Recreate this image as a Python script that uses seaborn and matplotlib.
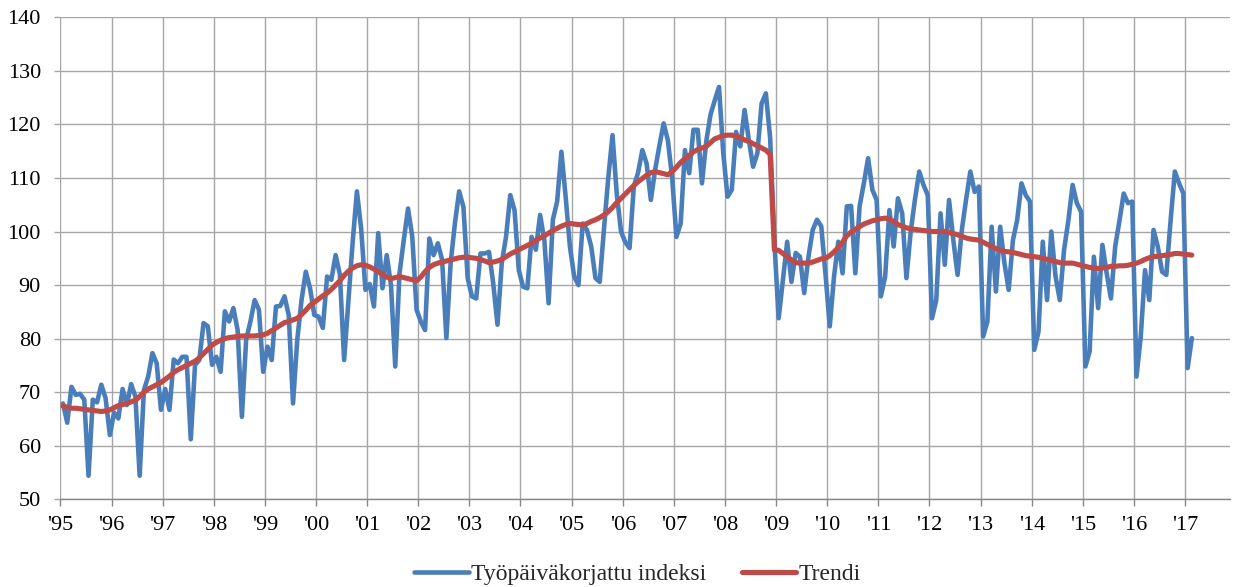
import numpy as np
import pandas as pd
import matplotlib
matplotlib.use("Agg")
import matplotlib.pyplot as plt
import seaborn as sns

# vuodet ja akselit
start_year = 1995
years = list(range(1995, 2018))
year_labels = ["'" + str(y)[2:] for y in years]
y_ticks = list(range(50, 141, 10))

# Työpäiväkorjattu indeksi, kuukausittain 1/1995 - 2/2017
indeksi = [
    67.9, 64.3, 71.0, 69.5, 69.7, 68.6, 54.4, 68.6, 68.1, 71.4, 68.9, 62.0,   # 1995
    66.2, 65.1, 70.6, 67.6, 71.5, 69.2, 54.4, 70.4, 72.9, 77.3, 75.4, 66.7,   # 1996
    70.6, 66.7, 76.1, 75.4, 76.6, 76.6, 61.2, 75.1, 76.0, 82.9, 82.3, 75.1,   # 1997
    76.6, 73.8, 85.1, 83.2, 85.7, 81.6, 65.4, 79.8, 83.2, 87.2, 85.4, 73.8,   # 1998
    78.5, 76.0, 86.0, 86.1, 87.9, 84.4, 67.9, 79.8, 87.2, 92.5, 89.4, 84.4,   # 1999
    84.1, 82.0, 91.6, 91.0, 95.6, 92.0, 76.0, 87.0, 98.0, 107.5, 100.5, 89.1,  # 2000
    90.2, 86.0, 99.7, 89.4, 95.6, 90.0, 74.8, 92.2, 98.4, 104.3, 99.0, 85.4,  # 2001
    83.2, 81.6, 98.7, 95.6, 97.8, 94.7, 80.1, 94.1, 101.5, 107.5, 104.6, 91.3,  # 2002
    87.9, 87.5, 95.9, 95.9, 96.2, 90.3, 82.6, 94.1, 99.0, 106.8, 104.0, 92.8,  # 2003
    89.7, 89.4, 99.0, 96.6, 103.1, 98.4, 86.6, 102.2, 105.6, 114.9, 106.5, 97.2,  # 2004
    91.6, 90.0, 101.5, 100.3, 97.2, 91.3, 90.6, 100.5, 110.0, 118.0, 107.0, 100.0,  # 2005
    98.0, 96.9, 108.4, 111.0, 115.2, 112.7, 105.9, 111.5, 116.0, 120.2, 117.0, 110.0,  # 2006
    99.0, 101.5, 115.2, 110.9, 119.0, 119.0, 109.0, 116.8, 121.8, 124.5, 127.0, 114.6,  # 2007
    106.5, 107.8, 118.6, 115.9, 122.7, 117.1, 112.1, 114.6, 123.9, 125.8, 117.5, 98.0,  # 2008
    83.8, 91.0, 98.1, 90.6, 96.0, 95.3, 88.5, 95.3, 100.3, 102.2, 101.0, 92.0,  # 2009
    82.3, 91.6, 98.1, 92.2, 104.7, 104.8, 92.2, 104.7, 109.0, 113.7, 107.8, 105.9,  # 2010
    87.9, 91.6, 104.0, 97.2, 106.2, 103.4, 91.3, 100.0, 106.0, 111.2, 108.7, 106.8,  # 2011
    83.8, 87.2, 103.4, 93.8, 105.9, 98.4, 91.9, 100.3, 106.0, 111.2, 107.4, 108.4,  # 2012
    80.4, 83.2, 100.9, 88.8, 100.9, 94.1, 89.1, 98.4, 102.2, 109.0, 106.8, 105.6,  # 2013
    77.9, 81.3, 98.1, 87.2, 100.0, 91.6, 87.2, 96.6, 102.0, 108.7, 105.3, 103.7,  # 2014
    74.8, 77.6, 95.3, 85.7, 97.5, 92.2, 87.5, 97.2, 102.0, 107.1, 105.3, 105.6,  # 2015
    72.9, 80.4, 92.8, 87.2, 100.3, 97.2, 92.5, 91.9, 102.0, 111.2, 109.0, 107.1,  # 2016
    74.5, 80.1,  # 2017
]

# Trendi
trendi = [
    67.4, 67.2, 67.0, 67.0, 66.9, 66.8, 66.7, 66.6, 66.5, 66.4, 66.5, 66.7,   # 1995
    67.1, 67.5, 67.7, 67.9, 68.2, 68.5, 69.2, 70.0, 70.6, 71.0, 71.4, 71.8,   # 1996
    72.4, 73.0, 73.7, 74.2, 74.6, 75.0, 75.4, 75.8, 76.4, 77.2, 78.0, 78.8,   # 1997
    79.3, 79.7, 80.0, 80.2, 80.3, 80.4, 80.5, 80.5, 80.5, 80.5, 80.6, 80.7,   # 1998
    81.0, 81.5, 82.0, 82.5, 83.0, 83.2, 83.5, 83.8, 84.5, 85.3, 86.2, 86.8,   # 1999
    87.4, 88.0, 88.5, 89.2, 90.0, 90.8, 91.8, 92.6, 93.2, 93.6, 93.8, 93.7,   # 2000
    93.4, 93.0, 92.5, 92.0, 91.5, 91.2, 91.4, 91.6, 91.4, 91.2, 91.0, 90.8,   # 2001
    91.5, 92.5, 93.3, 93.8, 94.1, 94.3, 94.5, 94.7, 94.9, 95.1, 95.2, 95.2,   # 2002
    95.1, 95.0, 94.8, 94.5, 94.2, 94.3, 94.5, 94.8, 95.3, 95.8, 96.2, 96.6,   # 2003
    97.0, 97.4, 97.8, 98.3, 98.8, 99.2, 99.7, 100.2, 100.6, 101.0, 101.3, 101.5,  # 2004
    101.4, 101.3, 101.2, 101.5, 101.9, 102.2, 102.6, 103.1, 103.7, 104.5, 105.4, 106.2,  # 2005
    107.0, 107.8, 108.6, 109.3, 109.9, 110.5, 111.0, 111.2, 111.0, 110.8, 110.6, 111.2,  # 2006
    112.0, 112.9, 113.6, 114.2, 114.9, 115.3, 115.6, 115.9, 116.6, 117.3, 117.6, 117.9,  # 2007
    118.0, 118.0, 117.8, 117.5, 117.1, 116.8, 116.4, 116.0, 115.6, 115.2, 114.4, 96.6,  # 2008
    96.5, 95.9, 95.3, 94.7, 94.2, 94.1, 94.1, 94.1, 94.3, 94.6, 94.9, 95.0,   # 2009
    95.5, 96.2, 97.0, 98.0, 99.2, 99.9, 100.4, 100.9, 101.4, 101.7, 102.0, 102.2,  # 2010
    102.4, 102.5, 102.3, 101.9, 101.3, 101.0, 100.7, 100.5, 100.4, 100.3, 100.2, 100.1,  # 2011
    100.0, 100.0, 100.0, 100.0, 99.8, 99.6, 99.4, 99.1, 98.8, 98.6, 98.5, 98.4,  # 2012
    98.0, 97.6, 97.2, 96.8, 96.5, 96.3, 96.2, 96.1, 95.9, 95.7, 95.5, 95.4,   # 2013
    95.3, 95.2, 95.0, 94.8, 94.6, 94.4, 94.2, 94.1, 94.1, 94.1, 93.9, 93.7,   # 2014
    93.5, 93.3, 93.2, 93.1, 93.2, 93.3, 93.5, 93.5, 93.6, 93.6, 93.7, 93.9,   # 2015
    94.1, 94.4, 94.8, 95.1, 95.3, 95.4, 95.5, 95.6, 95.7, 95.9, 95.9, 95.8,   # 2016
    95.7, 95.6,  # 2017
]

n = len(indeksi)
aika = start_year + (np.arange(n) + 0.6) / 12  # kuukausi vuoden murto-osana
df = pd.DataFrame({"aika": aika, "indeksi": indeksi, "trendi": trendi})

sns.set_theme(style="white")
plt.rcParams["font.family"] = ["Liberation Serif", "DejaVu Serif"]

fig = plt.figure(figsize=(12.33, 5.87), dpi=100)
ax = fig.add_axes([0.049, 0.1494, 0.9486, 0.8211])

sns.lineplot(data=df, x="aika", y="indeksi", color="#4A7EBB", lw=3.3,
             label="Työpäiväkorjattu indeksi", ax=ax)
sns.lineplot(data=df, x="aika", y="trendi", color="#BE4B48", lw=3.7,
             label="Trendi", ax=ax)

ax.set_xlim(1995, 2017.88)
ax.set_ylim(50, 140)
ax.set_xticks(years)
ax.set_xticklabels(year_labels)
ax.set_yticks(y_ticks)
ax.set_xlabel("")
ax.set_ylabel("")

ax.grid(True, color="#A6A6A6", lw=1)
ax.set_axisbelow(True)
for s in ["top", "right", "left"]:
    ax.spines[s].set_visible(False)
ax.spines["bottom"].set_color("#868686")
ax.spines["bottom"].set_linewidth(1)

ax.tick_params(axis="x", bottom=True, length=5, width=1, color="#868686",
               pad=7, labelsize=16, labelcolor="black")
ax.tick_params(axis="y", left=True, length=4, width=1, color="#A6A6A6",
               pad=10, labelsize=16, labelcolor="black")

handles, labels = ax.get_legend_handles_labels()
ax.get_legend().remove()
fig.legend(handles, labels, loc="center", bbox_to_anchor=(0.517, 0.022),
           ncol=2, frameon=False, fontsize=17, handlelength=2.3,
           handletextpad=0.1, columnspacing=1.5)

fig.savefig("out.png", dpi=100)
